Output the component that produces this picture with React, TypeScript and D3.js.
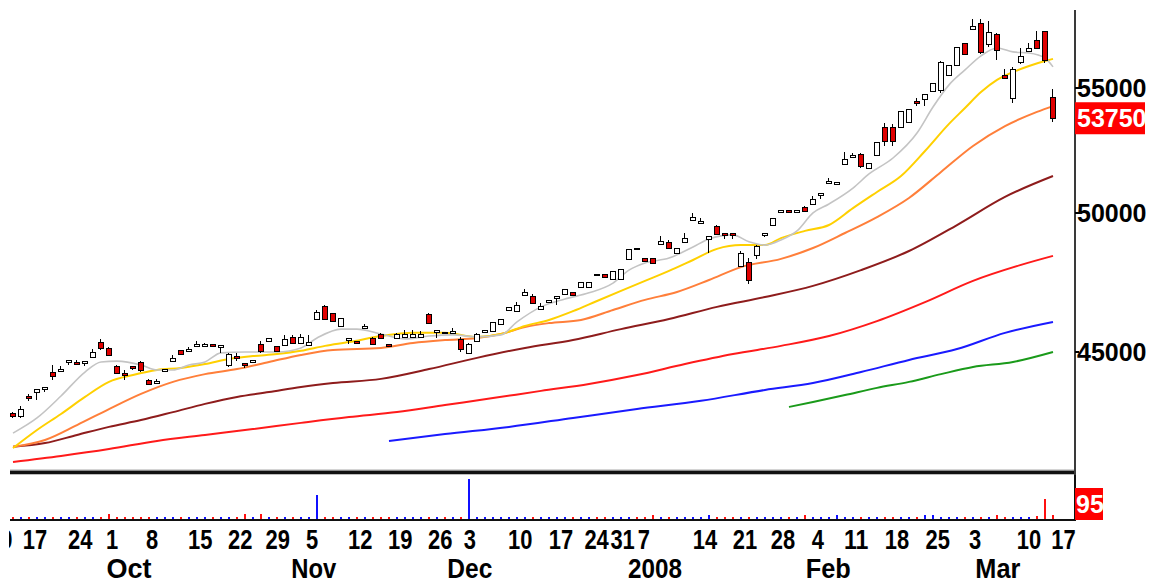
import * as d3 from "d3"

// daily candles, oldest first (index = trading day)
const opens = [
  42960, 42860, 43520, 43650, 43750, 44320, 44360, 44660, 44660, 44630,
  44830, 45340, 45140, 44520, 44290, 44520, 44660, 44050, 43950, 44360,
  44690, 45070, 45040, 45210, 45210, 45280, 45170, 44560, 44860, 44630,
  44660, 45280, 45380, 45210, 45240, 45520, 45310, 45240, 46140, 46600,
  46350, 45900, 45410, 45380, 45830, 45480, 45620, 45280, 45480, 45520,
  45520, 45520, 46320, 45690, 45690, 45660, 45450, 44970, 45380, 45690,
  45720, 45970, 46460, 46420, 46990, 46960, 46500, 46740, 46890, 47030,
  47100, 47280, 47280, 47750, 47750, 47570, 47570, 48300, 48700, 48330,
  48330, 48850, 48930, 48520, 48930, 49750, 49640, 49040, 49520, 49260,
  49260, 48040, 48190, 48440, 49190, 49560, 50050, 50130, 50050, 50240,
  50360, 50700, 51170, 51130, 51910, 52190, 52310, 51760, 52270, 53390,
  53390, 53390, 53600, 54460, 54540, 54870, 54920, 55550, 55970, 56910,
  57520, 57790, 56870, 57310, 55550, 54580, 56100, 56570, 57040, 57440,
  54630,
]
const highs = [
  42990, 43190, 43590, 43750, 43820, 44560, 44520, 44730, 44730, 44690,
  45100, 45450, 45170, 44560, 44390, 44520, 44690, 44090, 44090, 44420,
  44900, 45070, 45170, 45380, 45310, 45280, 45240, 44970, 44970, 44630,
  44730, 45380, 45480, 45210, 45590, 45590, 45620, 45590, 46460, 46640,
  46350, 46180, 45480, 45380, 45970, 45520, 45660, 45280, 45660, 45760,
  45760, 45720, 46350, 45760, 45690, 45830, 45520, 45310, 45660, 45760,
  46040, 46140, 46570, 46740, 47210, 47030, 46710, 46820, 46960, 47210,
  47100, 47460, 47460, 47750, 47750, 47860, 47930, 48670, 48700, 48330,
  48330, 49150, 49000, 48700, 49260, 50020, 49830, 49150, 49560, 49260,
  49260, 48590, 48330, 48810, 49260, 49830, 50130, 50130, 50130, 50280,
  50660, 50780, 51360, 51210, 52390, 52350, 52350, 51950, 52790, 53560,
  53520, 54050, 54130, 54580, 54750, 55210, 56140, 55970, 56740, 56910,
  57960, 57960, 57870, 57350, 55800, 55880, 56700, 56910, 57440, 57440,
  54960,
]
const lows = [
  42830, 42830, 43390, 43420, 43690, 44090, 44360, 44590, 44590, 44560,
  44830, 45100, 44900, 44290, 44090, 44420, 44360, 43920, 43950, 44360,
  44690, 44930, 45040, 45210, 45210, 45210, 45000, 44520, 44730, 44490,
  44660, 45000, 45380, 45040, 45240, 45310, 45310, 45240, 46140, 46140,
  46070, 45900, 45310, 45310, 45830, 45280, 45480, 45210, 45480, 45520,
  45520, 45520, 46000, 45520, 45660, 45660, 45040, 44970, 45380, 45690,
  45720, 45970, 46460, 46420, 46990, 46710, 46500, 46740, 46670, 47030,
  46990, 47280, 47280, 47710, 47640, 47570, 47570, 48300, 48690, 48220,
  48150, 48850, 48700, 48520, 48930, 49750, 49640, 48550, 49220, 49070,
  49070, 48040, 47420, 48330, 49150, 49560, 50050, 50050, 50050, 50090,
  50360, 50590, 51170, 51130, 51910, 52190, 51800, 51760, 52270, 52670,
  52670, 53390, 53600, 54290, 54290, 54870, 54830, 55550, 55970, 56440,
  57520, 56480, 56790, 56230, 55420, 54420, 56060, 56570, 56700, 56100,
  53640,
]
const closes = [
  42860, 43090, 43450, 43750, 43820, 44190, 44420, 44730, 44590, 44690,
  45000, 45140, 44900, 44290, 44220, 44460, 44390, 43920, 44020, 44420,
  44800, 44930, 45100, 45280, 45280, 45210, 45240, 44930, 44800, 44560,
  44730, 45040, 45480, 45040, 45450, 45310, 45520, 45340, 46390, 46140,
  46070, 46180, 45480, 45310, 45900, 45280, 45480, 45210, 45620, 45620,
  45620, 45620, 46000, 45760, 45660, 45720, 45100, 45280, 45620, 45760,
  46040, 46140, 46570, 46640, 47100, 46710, 46600, 46820, 46960, 47210,
  46990, 47460, 47460, 47710, 47640, 47860, 47930, 48670, 48690, 48220,
  48150, 48960, 48700, 48700, 49070, 49860, 49710, 49150, 49220, 49190,
  49190, 48520, 47530, 48780, 49260, 49830, 50130, 50050, 50130, 50090,
  50550, 50780, 51250, 51210, 52110, 52270, 51830, 51950, 52790, 52830,
  52830, 54050, 54130, 54380, 54750, 55210, 56100, 55970, 56740, 56440,
  57650, 56530, 57390, 56610, 55420, 55800, 56360, 56700, 56700, 56180,
  53750,
]
const volumes = [
  50, 45, 55, 50, 45, 55, 50, 45, 50, 55,
  50, 55, 115, 55, 50, 45, 50, 55, 50, 45,
  50, 55, 50, 45, 50, 55, 50, 45, 50, 110,
  55, 110, 50, 55, 45, 50, 55, 50, 545, 55,
  50, 45, 50, 55, 50, 45, 55, 50, 45, 50,
  55, 50, 45, 50, 55, 50, 45, 910, 50, 55,
  45, 50, 55, 50, 45, 50, 55, 50, 45, 50,
  55, 50, 45, 50, 55, 50, 45, 50, 55, 50,
  95, 50, 45, 55, 50, 45, 50, 95, 50, 55,
  45, 50, 55, 50, 45, 50, 55, 50, 45, 85,
  50, 55, 45, 95, 55, 50, 45, 50, 55, 50,
  45, 50, 55, 50, 95, 95, 55, 50, 45, 50,
  55, 50, 45, 85, 55, 50, 45, 50, 60, 455,
  95,
]

// moving averages (day index -> value)
const greyIdx = [0, 3, 6, 9, 11, 13, 16, 18, 20, 22, 24, 26, 29, 33, 36, 38, 41, 43, 46, 49, 52, 55, 58, 61, 63, 66, 69, 72, 75, 77, 79, 82, 85, 87, 90, 92, 94, 96, 98, 100, 102, 105, 107, 110, 113, 115, 117, 119, 121, 123, 125, 127, 129, 130]
const greyVals = [42310, 42800, 43520, 44320, 44660, 44690, 44560, 44390, 44390, 44560, 44660, 44970, 45000, 45000, 45140, 45480, 45790, 45790, 45620, 45450, 45550, 45590, 45520, 45590, 46040, 46570, 46850, 47070, 47420, 47890, 48150, 48330, 48740, 49040, 49190, 48930, 48810, 49000, 49340, 50020, 50360, 50970, 51520, 52150, 53150, 54210, 55130, 55760, 56360, 56700, 56530, 56480, 56270, 55890]

const yellowIdx = [0, 3, 6, 9, 12, 15, 18, 21, 24, 27, 30, 33, 36, 39, 42, 46, 50, 54, 58, 61, 64, 67, 70, 73, 76, 79, 82, 85, 88, 91, 94, 96, 99, 102, 105, 108, 111, 114, 117, 119, 121, 123, 125, 127, 129, 130]
const yellowVals = [41830, 42410, 42930, 43490, 43990, 44220, 44390, 44460, 44590, 44760, 44860, 44930, 45040, 45210, 45340, 45550, 45660, 45660, 45520, 45620, 45900, 46110, 46420, 46780, 47140, 47500, 47860, 48260, 48670, 48810, 48810, 49070, 49340, 49560, 50200, 50820, 51440, 52430, 53520, 54170, 54830, 55340, 55670, 55930, 56140, 56230]

const orangeIdx = [0, 4, 8, 12, 16, 20, 24, 28, 32, 36, 40, 46, 50, 54, 58, 61, 64, 67, 71, 75, 79, 83, 87, 91, 96, 100, 104, 108, 112, 116, 120, 124, 128, 130]
const orangeVals = [41870, 42090, 42570, 43090, 43590, 43990, 44250, 44420, 44660, 44900, 45070, 45140, 45310, 45410, 45480, 45620, 45860, 46000, 46110, 46460, 46820, 47100, 47530, 48000, 48300, 48700, 49260, 49860, 50590, 51600, 52630, 53430, 54010, 54250]

const maroonIdx = [0, 4, 8, 12, 16, 20, 24, 28, 32, 36, 40, 46, 52, 58, 64, 70, 76, 82, 88, 94, 100, 106, 112, 118, 124, 130]
const maroonVals = [41870, 41990, 42250, 42510, 42730, 42990, 43260, 43490, 43650, 43820, 43950, 44090, 44420, 44800, 45140, 45410, 45790, 46140, 46570, 46920, 47320, 47890, 48590, 49560, 50630, 51440]

const redIdx = [0, 6, 12, 18, 24, 30, 36, 42, 48, 54, 60, 66, 72, 78, 84, 90, 96, 102, 108, 114, 120, 126, 130]
const redVals = [41390, 41580, 41800, 42060, 42250, 42440, 42640, 42830, 42990, 43220, 43450, 43690, 43920, 44220, 44590, 44930, 45210, 45550, 46070, 46740, 47500, 48080, 48410]

const blueIdx = [47, 54, 62, 70, 78, 86, 94, 100, 106, 112, 118, 124, 130]
const blueVals = [42060, 42280, 42510, 42800, 43090, 43360, 43720, 43950, 44320, 44730, 45100, 45660, 46040]

const greenIdx = [97, 100, 104, 108, 112, 116, 120, 125, 130]
const greenVals = [43160, 43320, 43550, 43790, 43990, 44250, 44490, 44660, 45000]

// axis labels
const priceTicks = [55000, 50000, 45000]
const dayTickPos = [-1.6, 2.75, 8.4, 12.4, 17.4, 23.4, 28.4, 33.1, 37.4, 43.4, 48.4, 53.4, 57.1, 63.4, 68.5, 72.95, 76.2, 78.85, 86.5, 91.5, 96.25, 100.6, 105.4, 110.5, 115.6, 120.25, 127.0, 131.3]
const dayTickText = ["10", "17", "24", "1", "8", "15", "22", "29", "5", "12", "19", "26", "3", "10", "17", "24", "31", "7", "14", "21", "28", "4", "11", "18", "25", "3", "10", "17"]
const monthPos = [14.5, 37.6, 57.1, 80.25, 101.9, 123.1]
const monthText = ["Oct", "Nov", "Dec", "2008", "Feb", "Mar"]

const lastClose = 53750
const lastVolume = 95

const bold = "'Liberation Sans', Arial, sans-serif"

export default function App() {
  const width = 1149
  const height = 582
  const axisX = 1075

  const x = d3.scaleLinear().domain([0, 130]).range([13, 1053])
  const y = d3.scaleLog().domain([45000, 55000]).range([352, 88])
  const yv = d3.scaleLinear().domain([0, 1000]).range([519, 475])

  const series = [
    { idx: greenIdx, vals: greenVals, color: "#1a9a1a", w: 2 },
    { idx: blueIdx, vals: blueVals, color: "#1a1aff", w: 2 },
    { idx: redIdx, vals: redVals, color: "#ff1a1a", w: 2 },
    { idx: maroonIdx, vals: maroonVals, color: "#8e1c1c", w: 2 },
    { idx: orangeIdx, vals: orangeVals, color: "#ff7f3a", w: 2 },
    { idx: yellowIdx, vals: yellowVals, color: "#ffd000", w: 2 },
    { idx: greyIdx, vals: greyVals, color: "#c4c4c4", w: 1.6 },
  ]

  const line = d3
    .line<[number, number]>()
    .x((d) => x(d[0]))
    .y((d) => y(d[1]))
    .curve(d3.curveMonotoneX)

  const n = Math.min(opens.length, highs.length, lows.length, closes.length)
  const candles = d3.range(n).map((i) => ({
    i,
    o: opens[i],
    h: highs[i],
    l: lows[i],
    c: closes[i],
  }))

  const yClose = y(lastClose)

  return (
    <svg
      width={width}
      height={height}
      style={{ position: "absolute", left: 0, top: 0, background: "#fff" }}
    >
      <defs>
        <clipPath id="main">
          <rect x={10} y={0} width={axisX - 11} height={468} />
        </clipPath>
        <clipPath id="axis">
          <rect x={9} y={500} width={width} height={82} />
        </clipPath>
      </defs>
      <rect x={0} y={0} width={width} height={height} fill="#fff" />

      {/* moving averages */}
      <g clipPath="url(#main)" fill="none">
        {series.map((s, k) => (
          <path
            key={k}
            d={line(s.idx.map((d, j) => [d, s.vals[j]] as [number, number])) || ""}
            stroke={s.color}
            strokeWidth={s.w}
          />
        ))}
      </g>

      {/* candles */}
      <g clipPath="url(#main)" shapeRendering="crispEdges">
        {candles.map((d) => {
          const cx = Math.round(x(d.i))
          const top = Math.round(y(Math.max(d.o, d.c)))
          const bot = Math.round(y(Math.min(d.o, d.c)))
          const hi = Math.round(y(d.h))
          const lo = Math.round(y(d.l))
          const up = d.c >= d.o
          return (
            <g key={d.i}>
              <line x1={cx - 0.5} x2={cx - 0.5} y1={hi} y2={lo + 1} stroke="#000" strokeWidth={1} />
              <rect
                x={cx - 2.5}
                y={top + 0.5}
                width={5}
                height={Math.max(1, bot - top)}
                fill={up ? "#fff" : "#e00000"}
                stroke="#000"
                strokeWidth={1}
              />
            </g>
          )
        })}
      </g>

      {/* panel separator */}
      <g shapeRendering="crispEdges">
        <rect x={10} y={469} width={axisX - 10} height={1} fill="#d4d4d4" />
        <rect x={10} y={470} width={axisX - 10} height={1} fill="#8c8c8c" />
        <rect x={10} y={471} width={axisX - 10} height={3} fill="#111" />
        <rect x={10} y={474} width={axisX - 10} height={1} fill="#bdbdbd" />
        <rect x={axisX - 1} y={10} width={2} height={465} fill="#3a3a3a" />
      </g>

      {/* right price axis */}
      <g>
        {priceTicks.map((t) => (
          <g key={t}>
            <rect x={axisX} y={Math.round(y(t)) - 1} width={4} height={2} fill="#000" />
            <text
              x={axisX + 2}
              y={y(t)}
              dominantBaseline="central"
              fontFamily={bold}
              fontWeight="bold"
              fontSize={25}
              fill="#000"
            >
              {t}
            </text>
          </g>
        ))}
        <rect x={axisX} y={yClose - 16} width={70} height={32} fill="#ff0000" />
        <text
          x={axisX + 2}
          y={yClose}
          dominantBaseline="central"
          fontFamily={bold}
          fontWeight="bold"
          fontSize={25}
          fill="#fff"
        >
          {lastClose}
        </text>
      </g>

      {/* volume */}
      <g shapeRendering="crispEdges">
        {d3.range(Math.min(n, volumes.length)).map((i) => {
          const cx = Math.round(x(i))
          const top = Math.round(yv(volumes[i]))
          return (
            <rect
              key={i}
              x={cx - 1}
              y={top}
              width={2}
              height={519 - top}
              fill={closes[i] >= opens[i] ? "#1010ff" : "#ff1010"}
            />
          )
        })}
        <rect x={10} y={519} width={axisX - 9} height={2} fill="#111" />
        <rect x={axisX - 1} y={475} width={2} height={46} fill="#111" />
        <rect x={axisX} y={488} width={28} height={32} fill="#ff0000" />
      </g>
      <text
        x={axisX + 1}
        y={504}
        dominantBaseline="central"
        fontFamily={bold}
        fontWeight="bold"
        fontSize={25}
        fill="#fff"
      >
        {lastVolume}
      </text>

      {/* date axis: condensed bold labels */}
      <g clipPath="url(#axis)" fontFamily={bold} fontWeight="bold" fontSize={27} fill="#000" textAnchor="middle">
        {dayTickText.map((t, k) => (
          <text
            key={k}
            x={x(dayTickPos[k])}
            y={549}
            textLength={t.length * 12.2}
            lengthAdjust="spacingAndGlyphs"
          >
            {t}
          </text>
        ))}
        {monthText.map((t, k) => (
          <text
            key={"m" + k}
            x={x(monthPos[k])}
            y={578}
            textLength={t.length === 4 ? 54 : 45}
            lengthAdjust="spacingAndGlyphs"
          >
            {t}
          </text>
        ))}
      </g>
    </svg>
  )
}
